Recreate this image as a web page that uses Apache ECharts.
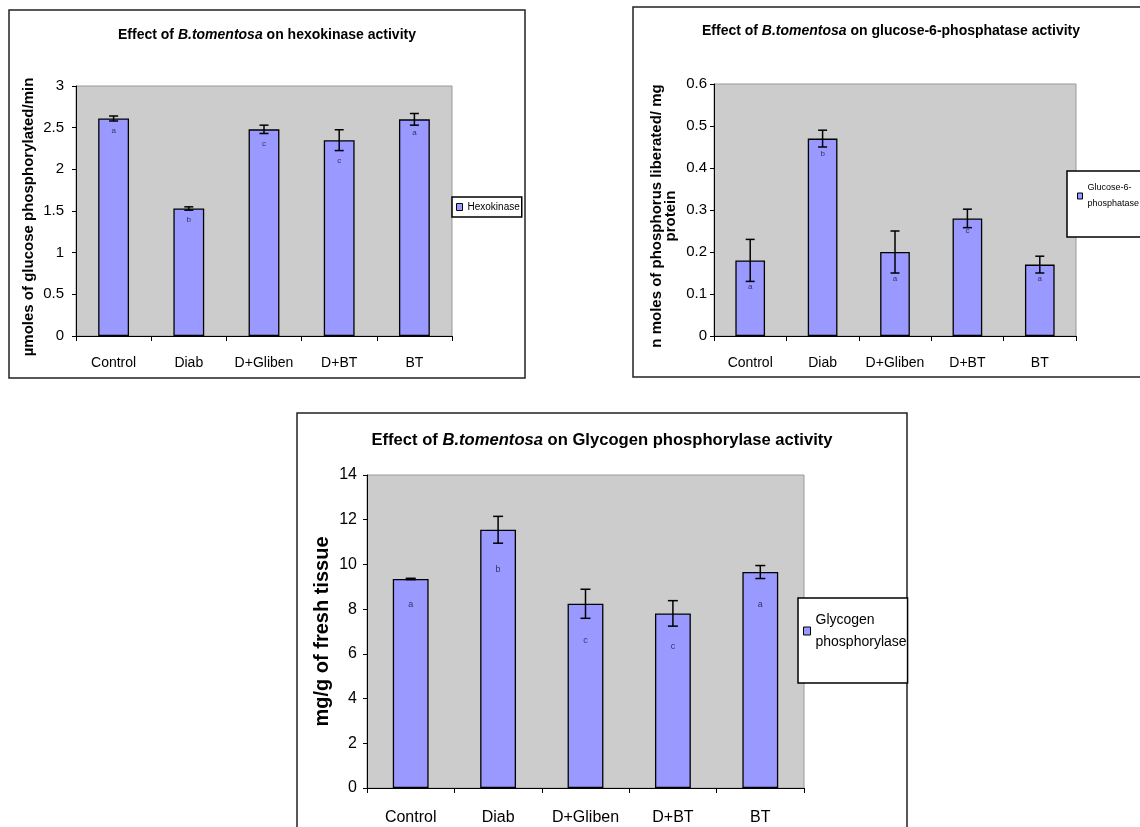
<!DOCTYPE html>
<html><head><meta charset="utf-8">
<script src="https://cdn.jsdelivr.net/npm/echarts@6.0.0/dist/echarts.min.js"></script>
<style>html,body{margin:0;padding:0;background:#fff}#c{width:1140px;height:827px}</style>
</head><body><div id="c"></div>
<script>
// ---------- data ----------
const categories = ['Control', 'Diab', 'D+Gliben', 'D+BT', 'BT'];

// Hexokinase (µmoles of glucose phosphorylated/min)
const hkValues   = [2.61, 1.53, 2.48, 2.35, 2.60];
const hkErrors   = [0.03, 0.02, 0.05, 0.125, 0.07];
const hkLetters  = ['a', 'b', 'c', 'c', 'a'];
const hkLetterAt = [2.46, 1.40, 2.31, 2.10, 2.44];
const hkAxis     = {min: 0, max: 3, interval: 0.5};

// Glucose-6-phosphatase (n moles of phosphorus liberated/ mg protein)
const g6pValues   = [0.18, 0.47, 0.20, 0.28, 0.17];
const g6pErrors   = [0.05, 0.02, 0.05, 0.022, 0.02];
const g6pLetters  = ['a', 'b', 'a', 'c', 'a'];
const g6pLetterAt = [0.118, 0.433, 0.137, 0.25, 0.137];
const g6pAxis     = {min: 0, max: 0.6, interval: 0.1};

// Glycogen phosphorylase (mg/g of fresh tissue)
const gpValues   = [9.35, 11.55, 8.24, 7.81, 9.66];
const gpErrors   = [0.03, 0.6, 0.65, 0.57, 0.29];
const gpLetters  = ['a', 'b', 'c', 'c', 'a'];
const gpLetterAt = [8.19, 9.79, 6.61, 6.34, 8.19];
const gpAxis     = {min: 0, max: 14, interval: 2};

// ---------- styles ----------
const SANS = "'Liberation Sans',Arial,sans-serif";
const BAR_COLOR = '#9999ff';
const PLOT_BG = '#cccccc';

function titleText(before, italic, after) {
  return '{n|' + before + '}{i|' + italic + '}{n|' + after + '}';
}
function titleRich(fs) {
  return {
    n: {fontFamily: SANS, fontWeight: 'bold', fontSize: fs, color: '#000', lineHeight: fs + 2},
    i: {fontFamily: SANS, fontWeight: 'bold', fontStyle: 'italic', fontSize: fs, color: '#000', lineHeight: fs + 2}
  };
}

function errRender(letters, half, fs) {
  return function (params, api) {
    const i = api.value(0), v = api.value(1), e = api.value(2), la = api.value(3);
    const t = api.coord([i, v + e]);
    const b = api.coord([i, v - e]);
    const l = api.coord([i, la]);
    const st = {stroke: '#000', lineWidth: 1.5};
    return {
      type: 'group',
      children: [
        {type: 'line', shape: {x1: t[0], y1: t[1], x2: b[0], y2: b[1]}, style: st},
        {type: 'line', shape: {x1: t[0] - half, y1: t[1], x2: t[0] + half, y2: t[1]}, style: st},
        {type: 'line', shape: {x1: b[0] - half, y1: b[1], x2: b[0] + half, y2: b[1]}, style: st},
        {type: 'text', x: l[0], y: l[1], style: {
          text: letters[params.dataIndex], fill: '#333366',
          fontFamily: SANS, fontSize: fs,
          align: 'center', verticalAlign: 'middle',
          textAlign: 'center', textVerticalAlign: 'middle'
        }}
      ]
    };
  };
}

function xAxisDef(gi, fs, margin) {
  return {
    type: 'category', gridIndex: gi, data: categories,
    axisLine: {lineStyle: {color: '#000', width: 1}},
    axisTick: {show: true, length: 5, lineStyle: {color: '#000'}},
    axisLabel: {color: '#000', fontFamily: SANS, fontSize: fs, margin: margin, interval: 0}
  };
}
function yAxisDef(gi, ax, fs, margin, name, nameFs, nameGap, nameLH, shift) {
  return {
    type: 'value', gridIndex: gi, min: ax.min, max: ax.max, interval: ax.interval,
    axisLine: {show: true, lineStyle: {color: '#000', width: 1}},
    axisTick: {show: true, length: 4, lineStyle: {color: '#000'}},
    splitLine: {show: false},
    axisLabel: {color: '#000', fontFamily: SANS, fontSize: fs, margin: margin},
    name: name, nameLocation: 'middle', nameRotate: 90, nameGap: nameGap,
    nameTextStyle: {color: '#000', fontFamily: SANS, fontWeight: 'bold', fontSize: nameFs,
      lineHeight: nameLH, padding: [0, shift, 0, 0]}
  };
}
function barSeries(name, gi, values) {
  return {
    type: 'bar', name: name, xAxisIndex: gi, yAxisIndex: gi, data: values,
    barWidth: '41%', silent: true,
    itemStyle: {color: BAR_COLOR, borderColor: '#000', borderWidth: 1.3}
  };
}
function errSeries(gi, values, errors, letterAt, letters, half, fs) {
  return {
    type: 'custom', xAxisIndex: gi, yAxisIndex: gi, silent: true, z: 10,
    encode: {x: 0, y: 1},
    data: values.map((v, i) => [i, v, errors[i], letterAt[i]]),
    renderItem: errRender(letters, half, fs)
  };
}

const chart = echarts.init(document.getElementById('c'), null, {renderer: 'canvas'});
chart.setOption({
  backgroundColor: '#fff',
  animation: false,
  graphic: [
    {type: 'rect', shape: {x: 9, y: 10, width: 516, height: 368}, style: {fill: 'none', stroke: '#222', lineWidth: 1.5}, z: -1},
    {type: 'rect', shape: {x: 633, y: 7, width: 600, height: 370}, style: {fill: 'none', stroke: '#222', lineWidth: 1.5}, z: -1},
    {type: 'rect', shape: {x: 297, y: 413, width: 610, height: 500}, style: {fill: 'none', stroke: '#222', lineWidth: 1.5}, z: -1}
  ],
  title: [
    {text: titleText('Effect of ', 'B.tomentosa', ' on hexokinase activity'), left: 267, top: 27, textAlign: 'center', padding: 0,
     textStyle: {rich: titleRich(14)}},
    {text: titleText('Effect of ', 'B.tomentosa', ' on glucose-6-phosphatase activity'), left: 891, top: 23, textAlign: 'center', padding: 0,
     textStyle: {rich: titleRich(14)}},
    {text: titleText('Effect of ', 'B.tomentosa', ' on Glycogen phosphorylase activity'), left: 602, top: 431, textAlign: 'center', padding: 0,
     textStyle: {rich: titleRich(16.6)}}
  ],
  legend: [
    {data: ['Hexokinase'], left: 452, top: 197, orient: 'vertical', padding: [3, 2, 3, 4],
     borderColor: '#000', borderWidth: 1.5, backgroundColor: '#fff',
     itemWidth: 6, itemHeight: 7, icon: 'rect', selectedMode: false,
     itemStyle: {borderColor: '#000', borderWidth: 1},
     textStyle: {fontFamily: SANS, fontSize: 10, color: '#000', lineHeight: 14}},
    {data: ['Glucose-6-phosphatase'], left: 1067, top: 171, orient: 'vertical', padding: [1, 80, 17, 10],
     borderColor: '#000', borderWidth: 1.5, backgroundColor: '#fff',
     itemWidth: 5, itemHeight: 6, icon: 'rect', selectedMode: false,
     itemStyle: {borderColor: '#000', borderWidth: 1},
     formatter: () => 'Glucose-6-\nphosphatase',
     textStyle: {fontFamily: SANS, fontSize: 9, color: '#000', lineHeight: 16, padding: [16, 0, 0, 0]}},
    {data: ['Glycogen phosphorylase'], left: 798, top: 598, orient: 'vertical', padding: [0, 1, 19, 5],
     borderColor: '#000', borderWidth: 1.5, backgroundColor: '#fff',
     itemWidth: 7, itemHeight: 8, icon: 'rect', selectedMode: false,
     itemStyle: {borderColor: '#000', borderWidth: 1},
     formatter: () => 'Glycogen\nphosphorylase',
     textStyle: {fontFamily: SANS, fontSize: 14, color: '#000', lineHeight: 22, padding: [22, 0, 0, 0]}}
  ],
  grid: [
    {left: 76, top: 86, width: 376, height: 250, show: true, backgroundColor: PLOT_BG, borderColor: '#999', borderWidth: 1},
    {left: 714, top: 84, width: 362, height: 252, show: true, backgroundColor: PLOT_BG, borderColor: '#999', borderWidth: 1},
    {left: 367, top: 475, width: 437, height: 313, show: true, backgroundColor: PLOT_BG, borderColor: '#999', borderWidth: 1}
  ],
  xAxis: [
    xAxisDef(0, 14, 20),
    xAxisDef(1, 14, 20),
    xAxisDef(2, 16, 22)
  ],
  yAxis: [
    yAxisDef(0, hkAxis, 15, 12, 'µmoles of glucose phosphorylated/min', 15, 40, 15, 12),
    yAxisDef(1, g6pAxis, 15, 7, 'n moles of phosphorus liberated/ mg\nprotein', 15, 36, 14, 12),
    yAxisDef(2, gpAxis, 16, 10, 'mg/g of fresh tissue', 20, 37, 16, 0)
  ],
  series: [
    barSeries('Hexokinase', 0, hkValues),
    errSeries(0, hkValues, hkErrors, hkLetterAt, hkLetters, 4.5, 8),
    barSeries('Glucose-6-phosphatase', 1, g6pValues),
    errSeries(1, g6pValues, g6pErrors, g6pLetterAt, g6pLetters, 4.5, 8),
    barSeries('Glycogen phosphorylase', 2, gpValues),
    errSeries(2, gpValues, gpErrors, gpLetterAt, gpLetters, 5, 9)
  ]
});
</script>
</body></html>
